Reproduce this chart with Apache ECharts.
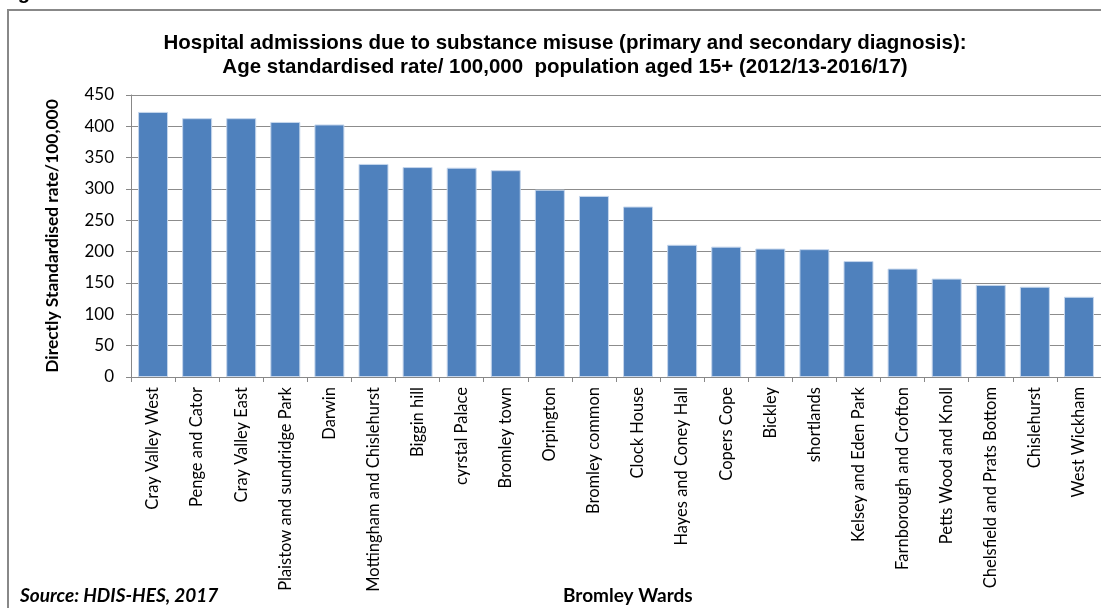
<!DOCTYPE html>
<html>
<head>
<meta charset="utf-8">
<script src="https://cdn.jsdelivr.net/npm/echarts@6/dist/echarts.min.js"></script>
<style>
html,body{margin:0;padding:0;background:#fff;}
#c{width:1101px;height:608px;}
</style>
</head>
<body>
<div id="c"></div>
<script>
const categories = ["Cray Valley West","Penge and Cator","Cray Valley East","Plaistow and sundridge Park","Darwin","Mottingham and Chislehurst","Biggin hill","cyrstal Palace","Bromley town","Orpington","Bromley common","Clock House","Hayes and Coney Hall","Copers Cope","Bickley","shortlands","Kelsey and Eden Park","Farnborough and Crofton","Petts Wood and Knoll","Chelsfield and Prats Bottom","Chislehurst","West Wickham"];
const values = [423,413,413,407,403,340,335,334,330,299,289,272,211,208,205,204,185,173,157,147,144,128];
const yTicks = [0,50,100,150,200,250,300,350,400,450];

const chart = echarts.init(document.getElementById('c'));
const labelFont = 'Lato, "Liberation Sans", sans-serif';
chart.setOption({
  animation:false,
  backgroundColor:'#fff',
  title:{
    text:'Hospital admissions due to substance misuse (primary and secondary diagnosis):\nAge standardised rate/ 100,000  population aged 15+ (2012/13-2016/17)',
    left:560, top:26, textAlign:'center',
    textStyle:{fontFamily:'"Liberation Sans", Arial, sans-serif',fontWeight:'bold',fontSize:20.5,lineHeight:24,color:'#000'}
  },
  graphic:[
    {type:'rect',shape:{x:8,y:10,width:1200,height:700},style:{fill:'none',stroke:'#888',lineWidth:2},silent:true},
    {type:'text',left:0,top:-17,style:{text:'Figure 31',font:'bold 20px "Liberation Sans", Arial, sans-serif',fill:'#000'}},
    {type:'text',left:20,top:586,style:{text:'Source: HDIS-HES, 2017',font:'italic bold 19px Lato, "Liberation Sans", sans-serif',fill:'#000'}},
    {type:'text',left:563,top:586,style:{text:'Bromley Wards',font:'bold 19px Lato, "Liberation Sans", sans-serif',fill:'#000'}}
  ],
  grid:{left:131,top:95,width:972,height:282,containLabel:false},
  xAxis:{
    type:'category',data:categories,
    axisLine:{show:true,lineStyle:{color:'#888',width:1}},
    axisTick:{show:true,length:5,alignWithLabel:false,lineStyle:{color:'#888'}},
    axisLabel:{rotate:90,interval:0,margin:10,fontFamily:labelFont,fontSize:16.5,color:'#000'}
  },
  yAxis:{
    type:'value',min:0,max:450,interval:50,
    name:'Directly Standardised rate/100,000',nameLocation:'middle',nameGap:70,
    nameTextStyle:{fontFamily:labelFont,fontWeight:'bold',fontSize:17.4,color:'#000'},
    axisLine:{show:true,lineStyle:{color:'#888',width:1}},
    axisTick:{show:true,length:5,lineStyle:{color:'#888'}},
    axisLabel:{margin:17,fontFamily:labelFont,fontSize:17,color:'#000',
      formatter:function(v){return yTicks.indexOf(v)>=0?String(v):'';}},
    splitLine:{show:true,lineStyle:{color:'#8c8c8c',width:1}}
  },
  series:[{
    type:'bar',data:values,barCategoryGap:'32%',
    itemStyle:{color:'#4F81BD',borderColor:'#C5D6EC',borderWidth:1}
  }]
});
</script>
</body>
</html>
